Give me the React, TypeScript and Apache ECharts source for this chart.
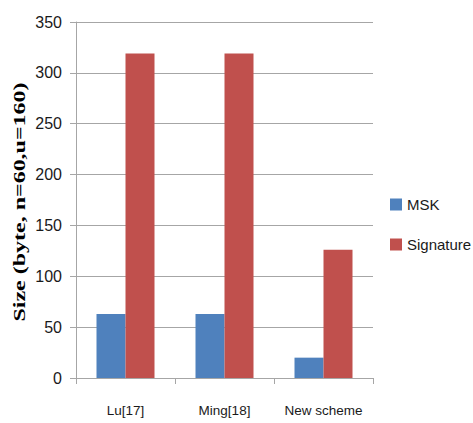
import React, { useEffect, useRef } from "react";
import * as echarts from "echarts";

const categories = ["Lu[17]", "Ming[18]", "New scheme"];
const mskValues = [63, 63, 20];
const signatureValues = [319, 319, 126];
const yTicks = { min: 0, max: 350, interval: 50 };
const yTitle = "Size (byte, n=60,u=160)";

export default function App() {
  const ref = useRef<HTMLDivElement>(null);
  useEffect(() => {
    if (!ref.current) return;
    const chart = echarts.init(ref.current, undefined, { renderer: "svg" });
    const font = "'Liberation Sans Narrow', 'Liberation Sans', Arial, sans-serif";
    const gray = "#A6A6A6";
    chart.setOption({
      animation: false,
      backgroundColor: "#ffffff",
      grid: { left: 76, right: 100, top: 22, bottom: 45, containLabel: false },
      legend: {
        orient: "vertical",
        left: 390,
        top: 197,
        padding: 0,
        itemWidth: 12,
        itemHeight: 12,
        itemGap: 25,
        icon: "rect",
        textStyle: { fontFamily: font, fontSize: 15, color: "#1a1a1a" },
        data: ["MSK", "Signature"],
      },
      xAxis: {
        type: "category",
        data: categories,
        axisLine: { show: true, lineStyle: { color: gray, width: 1 } },
        axisTick: { show: true, length: 6, lineStyle: { color: gray } },
        axisLabel: { interval: 0, fontFamily: font, fontSize: 13.5, color: "#1a1a1a", margin: 25 },
      },
      yAxis: {
        type: "value",
        min: yTicks.min,
        max: yTicks.max,
        interval: yTicks.interval,
        axisLine: { show: true, lineStyle: { color: gray, width: 1 } },
        axisTick: { show: true, length: 6, lineStyle: { color: gray } },
        axisLabel: { fontFamily: font, fontSize: 16, color: "#1a1a1a", margin: 14 },
        splitLine: { show: true, lineStyle: { color: gray, width: 1 } },
      },
      series: [
        {
          name: "MSK",
          type: "bar",
          data: mskValues,
          barWidth: 29,
          barGap: "0%",
          itemStyle: { color: "#4F81BD" },
        },
        {
          name: "Signature",
          type: "bar",
          data: signatureValues,
          barWidth: 29,
          barGap: "0%",
          itemStyle: { color: "#C0504D" },
        },
      ],
      graphic: [
        {
          type: "text",
          x: 20,
          y: 202,
          rotation: Math.PI / 2,
          scaleX: 1.5,
          scaleY: 1,
          style: {
            text: yTitle,
            fontFamily: "'Liberation Serif', 'DejaVu Serif', serif",
            fontWeight: "bold",
            fontSize: 16,
            fill: "#000000",
            align: "center",
            verticalAlign: "middle",
          },
        },
      ],
    });
    return () => chart.dispose();
  }, []);
  return <div ref={ref} style={{ width: 473, height: 423, position: "absolute", left: 0, top: 0 }} />;
}
